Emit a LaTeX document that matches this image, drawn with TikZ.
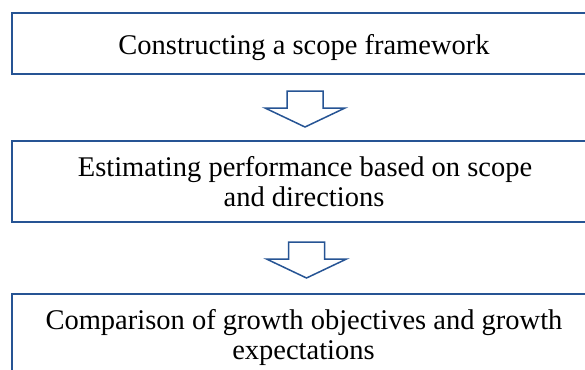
\documentclass[tikz,border=0pt]{standalone}
\usepackage{fontspec}
\setmainfont{Liberation Serif}
\usetikzlibrary{calc}
\definecolor{frameblue}{RGB}{38,84,148}
\tikzset{
  stepbox/.style={draw=frameblue, line width=2pt, fill=white, inner sep=0pt,
    minimum width=586pt, rectangle},
  steptext/.style={anchor=base, inner sep=0pt, text=black,
    font=\fontsize{28.5pt}{29pt}\selectfont},
  pics/downarrow/.style={code={
    \draw[frameblue, line width=1.5pt, line join=miter, fill=white]
      (-18,-18) -- (18,-18) -- (18,-1) -- (40,-1) -- (0,18)
      -- (-40,-1) -- (-18,-1) -- cycle;
  }}
}
\begin{document}
\begin{tikzpicture}[x=1pt, y=-1pt]
  \useasboundingbox (0,0) rectangle (585,369);
  \fill[white] (0,0) rectangle (585,369);
  \clip (0,0) rectangle (585,369);

  % the three process steps
  \node[stepbox, minimum height=61pt] (b1) at (305,43.5) {};
  \node[stepbox, minimum height=81pt] (b2) at (305,181.5) {};
  \node[stepbox, minimum height=81pt] (b3) at (305,334.5) {};

  \node[steptext] (t1) at (304,54) {Constructing a scope framework};
  \node[steptext] (t2a) at (305,176.5) {Estimating performance based on scope};
  \node[steptext] (t2b) at (304,206.5) {and directions};
  \node[steptext] (t3a) at (304,329) {Comparison of growth objectives and growth};
  \node[steptext] (t3b) at (303.5,359.5) {expectations};

  % block arrows between the steps
  \pic at ($(b1.south)!0.5!(b2.north)+(0,1.5)$) {downarrow};
  \pic at ($(b2.south)!0.5!(b3.north)+(1.5,2)$) {downarrow};
\end{tikzpicture}
\end{document}
